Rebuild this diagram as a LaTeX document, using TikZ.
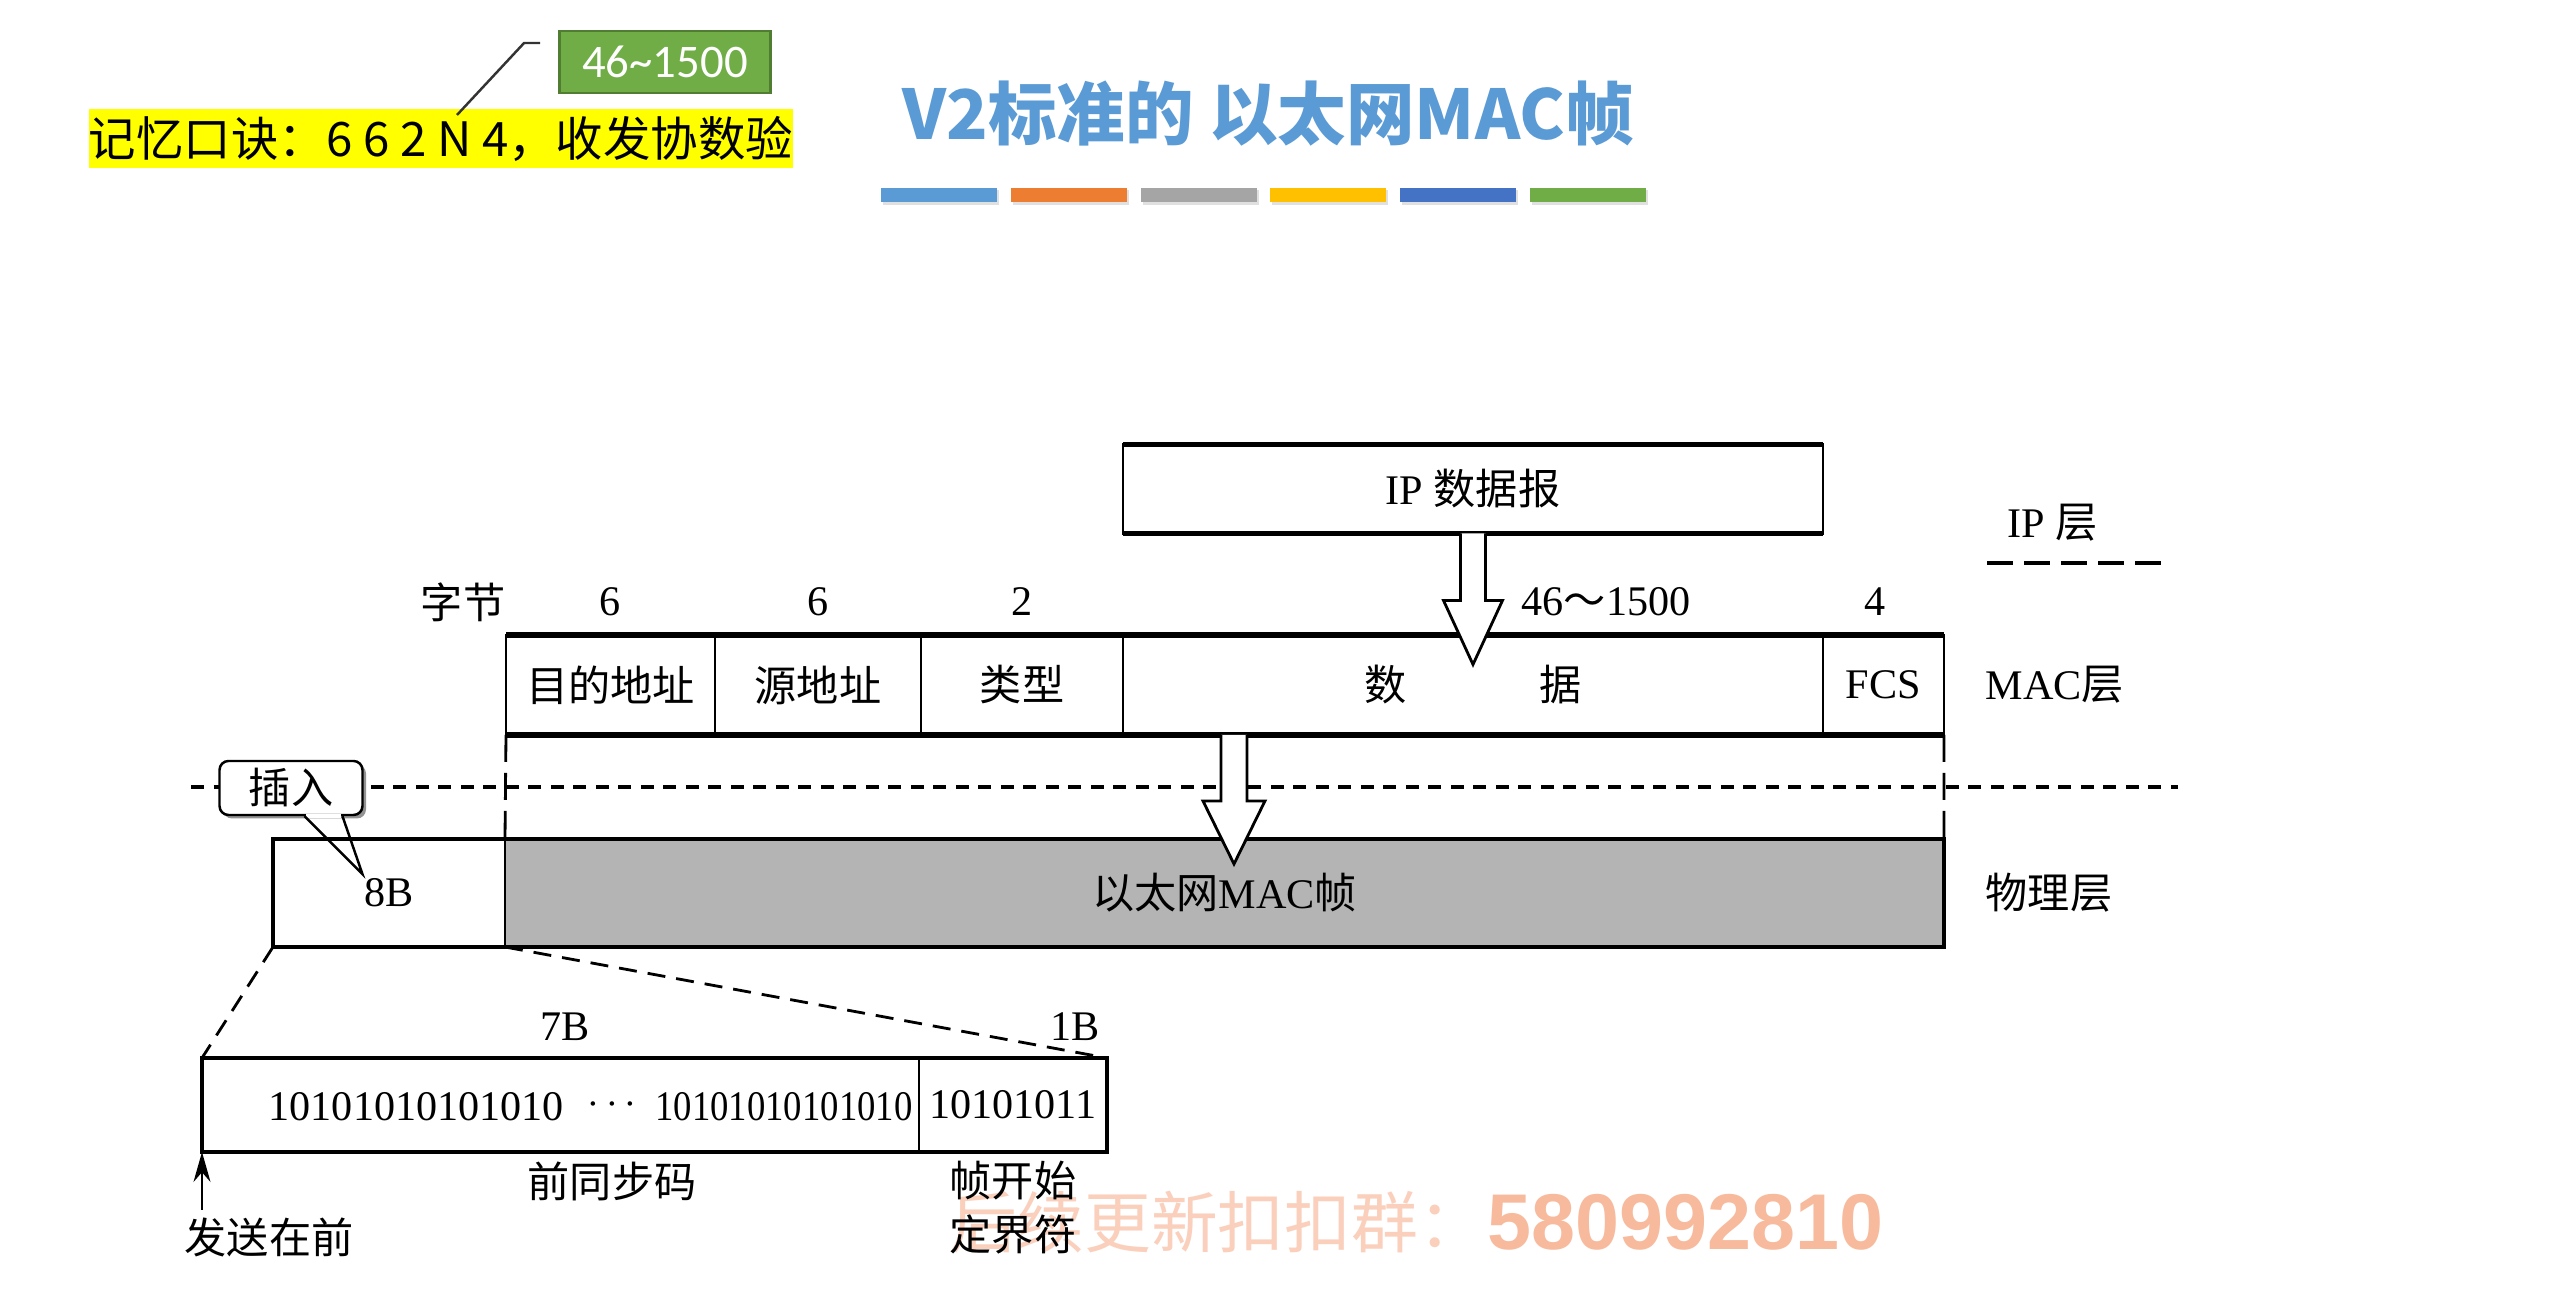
\documentclass[tikz,border=0pt]{standalone}
\usepackage{fontspec}
\setmainfont{Liberation Serif}
\newfontfamily\zhfont{Noto Sans CJK SC}
\newfontfamily\calfont{Carlito}
\newfontfamily\wmfont{Liberation Sans}
\usetikzlibrary{arrows.meta, positioning, shadows}
\newcommand{\zh}[1]{{\zhfont #1}}
\definecolor{titleblue}{RGB}{91,155,213}
\definecolor{barblue}{RGB}{91,155,213}
\definecolor{barorange}{RGB}{237,125,49}
\definecolor{bargray}{RGB}{165,165,165}
\definecolor{baryellow}{RGB}{255,192,0}
\definecolor{bardeep}{RGB}{68,114,196}
\definecolor{bargreen}{RGB}{112,173,71}
\definecolor{memoyellow}{RGB}{255,255,0}
\definecolor{rangegreen}{RGB}{112,173,71}
\definecolor{rangeedge}{RGB}{80,125,50}
\definecolor{framegray}{RGB}{180,180,180}
\definecolor{wmlight}{RGB}{250,208,188}
\definecolor{wmdeep}{RGB}{248,186,156}
\tikzset{
  memo/.style      = {rectangle, fill=memoyellow, minimum width=70.1mm, minimum height=5.9mm,
                      inner sep=0pt, font=\zhfont\fontsize{13.5}{16}\selectfont},
  rangebox/.style  = {rectangle, fill=rangegreen, draw=rangeedge, line width=0.8pt,
                      minimum width=21.1mm, minimum height=6.2mm, inner sep=0pt,
                      text=white, font=\calfont\fontsize{13.3}{16}\selectfont},
  callout/.style   = {line width=0.7pt, draw=black!80},
  heading/.style   = {font=\zhfont\bfseries\fontsize{19.5}{23}\selectfont, text=titleblue, inner sep=0pt},
  ipbox/.style     = {rectangle, draw, line width=0.7pt, minimum width=70mm, minimum height=8.9mm,
                      outer sep=0pt, font=\fontsize{12}{14}\selectfont},
  field/.style     = {rectangle, draw, line width=0.5pt, outer sep=0pt, inner sep=0pt,
                      minimum height=10mm, font=\fontsize{12}{14}\selectfont},
  pbox/.style      = {field, minimum height=9.4mm},
  bytes/.style     = {font=\fontsize{12}{15.4}\selectfont, inner sep=0pt},
  bits/.style      = {font=\fontsize{12}{14}\selectfont, inner sep=0pt},
  laylab/.style    = {font=\fontsize{12}{14}\selectfont, inner sep=0pt, anchor=west},
  hedge/.style     = {line width=1.5pt},
  vedge/.style     = {line width=0.8pt},
  boxedge/.style   = {line width=1.2pt},
  hollow/.style    = {draw, fill=white, line width=0.8pt, line join=miter},
  physsep/.style   = {line width=0.95pt, dash pattern=on 1.3mm off 0.95mm},
  ipsep/.style     = {line width=1.1pt, dash pattern=on 2.6mm off 1.1mm},
  guide/.style     = {line width=0.8pt, dash pattern=on 2.7mm off 1.1mm},
  zoomline/.style  = {line width=0.8pt, dash pattern=on 1.8mm off 1.1mm},
  insbox/.style    = {rectangle, rounded corners=0.9mm, draw, fill=white, line width=0.7pt,
                      minimum width=14.3mm, minimum height=5.4mm, inner sep=0pt,
                      font=\zhfont\fontsize{12}{14}\selectfont,
                      drop shadow={shadow xshift=0.35mm, shadow yshift=-0.35mm, fill=black!70, opacity=0.6}},
  pointer/.style   = {line width=0.7pt},
  sendarrow/.style = {-{Stealth[length=3mm, width=1.7mm]}, line width=0.5pt},
  wmzh/.style      = {font=\zhfont\fontsize{19}{22}\selectfont, text=wmlight, inner sep=0pt, anchor=west},
  wmnum/.style     = {font=\wmfont\bfseries\fontsize{22.5}{26}\selectfont, text=wmdeep, inner sep=0pt, anchor=west},
}
\begin{document}
\begin{tikzpicture}[x=0.1mm, y=-0.1mm]
  \fill[white] (0,0) rectangle (2554,1302);
  \useasboundingbox (0,0) rectangle (2554,1302);

  % watermark
  \node[wmzh] (wm1) at (950,1222) {后续更新扣扣群：};
  \node[wmnum] (wm2) at (1487,1222) {580992810};

  % header
  \node[memo] (memo) at (441,139) {记忆口诀：6 6 2 N 4，收发协数验};
  \node[rangebox] (rng) at (665,62) {46\textasciitilde1500};
  \coordinate (nmark) at (457,115);
  \draw[callout] ([xshift=-1.8mm,yshift=1.9mm]rng.west) -- ++(-1.6mm,0) -- (nmark);
  \node[heading] (ttl) at (1268,114) {V2标准的 以太网MAC帧};
  \foreach \c [count=\i from 0] in {barblue,barorange,bargray,baryellow,bardeep,bargreen}{
    \fill[black!12] (883+\i*129.8,190) rectangle ++(116,15);
    \fill[\c] (881+\i*129.8,188) rectangle ++(116,14);
  }

  % IP layer
  \node[ipbox] (ip) at (1473,489) {IP \zh{数据报}};
  \draw[hedge] (ip.north west) -- (ip.north east) (ip.south west) -- (ip.south east);
  \node[laylab] (iplay) at (2007,523) {IP \zh{层}};
  \draw[ipsep] ([xshift=-2mm,yshift=-4mm]iplay.west) -- ++(17.6mm,0);

  % MAC layer
  \node[field, minimum width=20.9mm, anchor=north west] (dst) at (506,635) {\zh{目的地址}};
  \node[field, minimum width=20.6mm, right=0pt of dst] (src) {\zh{源地址}};
  \node[field, minimum width=20.2mm, right=0pt of src] (typ) {\zh{类型}};
  \node[field, minimum width=70mm, right=0pt of typ] (dat) {\zh{数\hspace{13.3mm}据}};
  \node[field, minimum width=12.1mm, right=0pt of dat] (fcs) {FCS};
  \draw[hedge] (dst.north west) -- (fcs.north east) (dst.south west) -- (fcs.south east);
  \draw[vedge] (dst.north west) -- (dst.south west) (fcs.north east) -- (fcs.south east);
  \node[laylab] (maclay) at (1985,685) {MAC\zh{层}};

  \node[bytes] (bl) at (463,602) {\zh{字节}};
  \node[bytes] (b1) at (dst.north |- bl) {6};
  \node[bytes] (b2) at (src.north |- bl) {6};
  \node[bytes] (b3) at (typ.north |- bl) {2};
  \node[bytes] (b4) at (1606,602) {46\zh{～}1500};
  \node[bytes] (b5) at (1875,602) {4};

  \draw[hollow] ([xshift=-1.25mm]ip.south) -- ++(0,-6.7mm) -- ++(-1.7mm,0) -- ++(2.95mm,-6.4mm)
    -- ++(2.95mm,6.4mm) -- ++(-1.7mm,0) -- ++(0,6.7mm);

  % layer border
  \coordinate (sepL) at (191,787);
  \coordinate (sepR) at (2178,787);
  \draw[physsep] (sepL) -- (sepR);

  % physical layer
  \node[field, minimum width=23.2mm, minimum height=10.8mm, anchor=north west] (pre) at (273,839) {8B};
  \node[field, fill=framegray, minimum width=143.9mm, minimum height=10.8mm, right=0pt of pre] (eth) {\zh{以太网}MAC\zh{帧}};
  \draw[boxedge] (pre.north west) rectangle (eth.south east);
  \node[laylab] (phylay) at (1985,893) {\zh{物理层}};

  \draw[guide] (dst.south west) -- (pre.north east);
  \draw[guide] (fcs.south east) -- (eth.north east);

  \coordinate (a2) at (eth.north |- dat.south);
  \draw[hollow] ([xshift=-0.35mm]a2) -- ++(0,-6.6mm) -- ++(-1.8mm,0) -- ++(3.1mm,-6.3mm)
    -- ++(3.1mm,6.3mm) -- ++(-1.8mm,0) -- ++(0,6.6mm);

  % insert callout
  \node[insbox] (ins) at (291,788) {\zh{插入}};
  \draw[white, line width=1.2pt] ([xshift=1.5mm]ins.south) -- ([xshift=5mm]ins.south);
  \draw[pointer] ([xshift=1.35mm]ins.south) -- ([xshift=7.15mm,yshift=-5.8mm]ins.south) -- ([xshift=5.15mm]ins.south);

  % preamble
  \node[pbox, minimum width=71.7mm, anchor=north west] (syn) at (202,1058) {};
  \node[pbox, minimum width=18.8mm, right=0pt of syn] (sfd) {10101011};
  \draw[boxedge] (syn.north west) rectangle (sfd.south east);
  \node[bits, anchor=west] (bitsA) at (268,1107) {10101010101010};
  \node[bits] (dots) at (612,1105) {$\cdots$};
  \node[bits, anchor=east, xscale=0.87] (bitsB) at (913,1107) {10101010101010};

  \draw[zoomline] (pre.south west) -- (syn.north west);
  \draw[zoomline] (pre.south east) -- (sfd.north east);

  \node[bytes] (l7) at (565,1027) {7B};
  \node[bytes] (l1) at (1075,1027) {1B};
  \node[bytes] (synlab) at (612,1181) {\zh{前同步码}};
  \node[bytes, align=center] (sfdlab) at (1013,1208) {\zh{帧开始}\\\zh{定界符}};
  \coordinate (sendpt) at (202,1210);
  \draw[sendarrow] (sendpt) -- (syn.south west);
  \node[bytes] (sendlab) at (269,1237) {\zh{发送在前}};
\end{tikzpicture}
\end{document}
